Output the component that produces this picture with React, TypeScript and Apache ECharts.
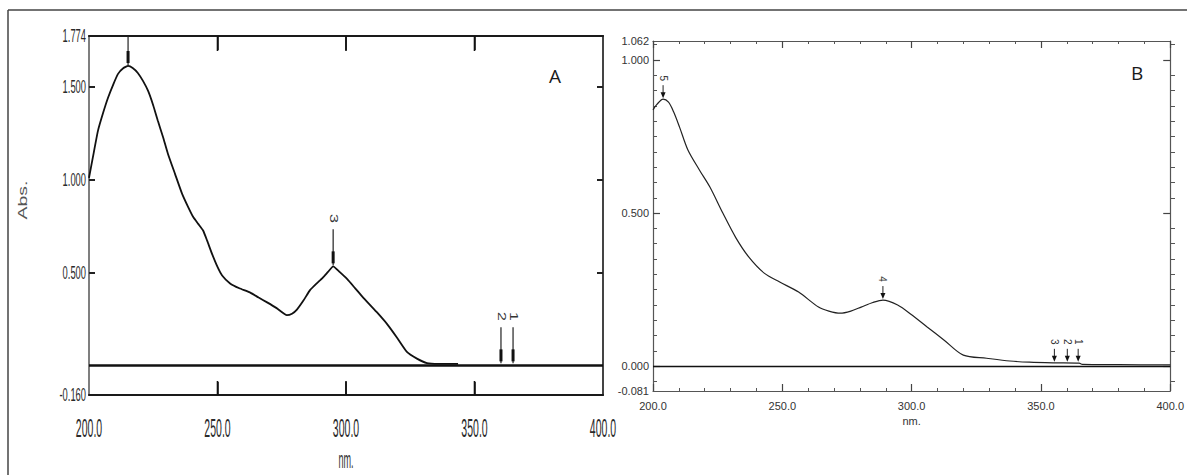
import React, { useEffect, useRef } from "react";
import * as echarts from "echarts";

// ---------- Panel A data ----------
const wavelengthA = [
  200, 201.5, 203.5, 205.5, 207.4, 209.5, 211.3, 213.3, 215.2, 217, 219, 221, 223, 225, 226.8, 228.8,
  230.7, 233.5, 236.2, 238.5, 240.5, 242.5, 244.4, 246, 247.8, 250, 251.8, 254.9, 258.5, 262.6, 266,
  269.3, 273, 277, 279, 280.9, 283.5, 286, 288.5, 291, 293, 295, 297.5, 300.4, 303.5, 306.6, 309.5,
  312, 316, 319.8, 323.7, 327.6, 331.5, 336, 343.6,
];
const absA = [
  1.01, 1.12, 1.264, 1.36, 1.441, 1.515, 1.57, 1.6, 1.613, 1.602, 1.575, 1.532, 1.478, 1.4, 1.317, 1.23,
  1.14, 1.03, 0.925, 0.855, 0.8, 0.762, 0.726, 0.67, 0.603, 0.53, 0.484, 0.441, 0.415, 0.393, 0.365,
  0.339, 0.308, 0.27, 0.278, 0.3, 0.35, 0.405, 0.44, 0.472, 0.503, 0.533, 0.503, 0.465, 0.416, 0.366,
  0.323, 0.286, 0.222, 0.15, 0.072, 0.036, 0.012, 0.008, 0.008,
];
const peakWlA = [215.2, 295, 360.3, 365];
const peakAbsA = [1.613, 0.533, 0.005, 0.005];
const peakLabelsA = ["", "3", "2", "1"];
const xTicksA = [200, 250, 300, 350, 400];
const xInnerTicksA = [250, 300, 350];
const yLabelsA = [-0.16, 0.5, 1.0, 1.5, 1.774];
const yMajorTicksA = [0.5, 1.0, 1.5];
const yMinA = -0.16;
const yMaxA = 1.774;

// ---------- Panel B data ----------
const wavelengthB = [
  200, 201.5, 203.9, 206, 208, 210.3, 213.5, 218, 222, 227, 232, 237, 243, 249, 256.3, 264, 268, 272.4,
  276.5, 280.5, 285, 288.9, 294.6, 300, 306, 312.6, 320, 329, 338, 345.6, 355, 364.8, 366, 380, 400,
];
const absB = [
  0.837, 0.855, 0.872, 0.862, 0.83, 0.78, 0.706, 0.64, 0.585, 0.5, 0.42, 0.357, 0.304, 0.275, 0.242,
  0.193, 0.18, 0.173, 0.18, 0.193, 0.208, 0.216, 0.2, 0.168, 0.128, 0.085, 0.036, 0.026, 0.017, 0.013,
  0.011, 0.01, 0.006, 0.005, 0.004,
];
const peakWlB = [203.9, 288.9, 355.2, 360.2, 364.4];
const peakAbsB = [0.872, 0.216, 0.011, 0.011, 0.011];
const peakLabelsB = ["5", "4", "3", "2", "1"];
const yLabelsB = [-0.081, 0, 0.5, 1.0, 1.062];
const yMajorTicksB = [0, 0.5, 1.0];
const yMinorTicksB = [
  -0.05, 0.05, 0.1, 0.15, 0.2, 0.25, 0.3, 0.35, 0.4, 0.45, 0.55, 0.6, 0.65, 0.7, 0.75, 0.8, 0.85, 0.9,
  0.95, 1.05,
];
const yMinB = -0.081;
const yMaxB = 1.062;

const FONT = "'Liberation Sans', Arial, sans-serif";

export default function App() {
  const ref = useRef<HTMLDivElement>(null);
  useEffect(() => {
    if (!ref.current) return;
    const chart = echarts.init(ref.current, undefined, { renderer: "svg" });

    const axisA = (position: string, len: number) => ({
      type: "value",
      gridIndex: 0,
      position,
      min: 200,
      max: 400,
      interval: 50,
      axisLine: { show: true, onZero: false, lineStyle: { color: "#1a1a1a", width: 2.2 } },
      axisTick: {
        show: true,
        inside: true,
        length: len,
        customValues: xInnerTicksA,
        lineStyle: { color: "#111", width: 1.5 },
      },
      axisLabel: { show: false },
      splitLine: { show: false },
    });
    const yAxisA = (position: string, lineWidth: number, color: string) => ({
      type: "value",
      gridIndex: 0,
      position,
      min: yMinA,
      max: yMaxA,
      axisLine: { onZero: false, lineStyle: { color, width: lineWidth } },
      axisTick: {
        show: true,
        inside: true,
        length: 6,
        customValues: yMajorTicksA,
        lineStyle: { color: "#222", width: 2 },
      },
      axisLabel: { show: false },
      splitLine: { show: false },
    });
    const xAxisB = (position: string, showLabel: boolean) => ({
      type: "value",
      gridIndex: 1,
      position,
      min: 200,
      max: 400,
      interval: 50,
      name: showLabel ? "nm." : "",
      nameLocation: "middle",
      nameGap: 18,
      nameTextStyle: { fontFamily: FONT, fontSize: 11, color: "#333" },
      axisLine: { onZero: false, lineStyle: { color: "#555", width: 1.2 } },
      axisTick: { inside: true, length: 7, lineStyle: { color: "#444", width: 1.2 } },
      minorTick: { show: true, splitNumber: 5, length: 3, lineStyle: { color: "#555", width: 1 } },
      axisLabel: {
        show: showLabel,
        margin: 9,
        fontFamily: FONT,
        fontSize: 11,
        color: "#333",
        showMinLabel: true,
        showMaxLabel: true,
        formatter: (v: number) => v.toFixed(1),
      },
      splitLine: { show: false },
    });
    const yAxisB = (position: string, showLabel: boolean) => ({
      type: "value",
      gridIndex: 1,
      position,
      min: yMinB,
      max: yMaxB,
      axisLine: { onZero: false, lineStyle: { color: "#555", width: 1.2 } },
      axisTick: {
        inside: true,
        length: 7,
        customValues: yMajorTicksB,
        lineStyle: { color: "#444", width: 1.2 },
      },
      axisLabel: {
        show: showLabel,
        margin: 4,
        fontFamily: FONT,
        fontSize: 11,
        color: "#333",
        customValues: yLabelsB,
        formatter: (v: number) => v.toFixed(3),
      },
      splitLine: { show: false },
    });
    const yMinorB = (position: string) => ({
      type: "value",
      gridIndex: 2,
      position,
      min: yMinB,
      max: yMaxB,
      axisLine: { show: false, onZero: false },
      axisTick: {
        inside: true,
        length: 4,
        customValues: yMinorTicksB,
        lineStyle: { color: "#555", width: 1 },
      },
      axisLabel: { show: false },
      splitLine: { show: false },
    });

    const markerA = (params: any, api: any) => {
      const i = params.dataIndex;
      const p = api.coord([api.value(0), api.value(1)]);
      const top = params.coordSys.y;
      const children: any[] = [
        {
          type: "line",
          shape: { x1: p[0], y1: Math.max(top, p[1] - 37), x2: p[0], y2: p[1] - 1 },
          style: { stroke: "#222", lineWidth: 1.2 },
        },
        {
          type: "rect",
          shape: { x: p[0] - 1.5, y: Math.max(top, p[1] - 15), width: 3, height: 12 },
          style: { fill: "#111" },
        },
      ];
      if (peakLabelsA[i]) {
        children.push({
          type: "text",
          x: p[0],
          y: p[1] - 48,
          rotation: -Math.PI / 2,
          scaleX: 1.6,
          style: {
            text: peakLabelsA[i],
            fontFamily: FONT,
            fontSize: 10,
            fill: "#333",
            align: "center",
            verticalAlign: "middle",
          },
        });
      }
      return { type: "group", children };
    };

    const markerB = (params: any, api: any) => {
      const i = params.dataIndex;
      const p = api.coord([api.value(0), api.value(1)]);
      return {
        type: "group",
        children: [
          {
            type: "line",
            shape: { x1: p[0], y1: p[1] - 14, x2: p[0], y2: p[1] - 4 },
            style: { stroke: "#222", lineWidth: 1 },
          },
          {
            type: "polygon",
            shape: {
              points: [
                [p[0] - 2.5, p[1] - 7],
                [p[0] + 2.5, p[1] - 7],
                [p[0], p[1] - 1],
              ],
            },
            style: { fill: "#111" },
          },
          {
            type: "text",
            x: p[0],
            y: p[1] - 21,
            rotation: -Math.PI / 2,
            style: {
              text: peakLabelsB[i],
              fontFamily: FONT,
              fontSize: 10,
              fill: "#333",
              align: "center",
              verticalAlign: "middle",
            },
          },
        ],
      };
    };

    // x labels of panel A
    const xLabelA = (params: any, api: any) => {
      const v = api.value(0);
      const pb = api.coord([v, yMinA]);
      return {
        type: "text",
        x: pb[0],
        y: pb[1] + 34,
        scaleX: 0.42,
        style: {
          text: v.toFixed(1),
          fontFamily: FONT,
          fontSize: 25,
          fill: "#2a2a2a",
          align: "center",
          verticalAlign: "middle",
        },
      };
    };
    // inner x tick marks of panel A (top and bottom), drawn as polylines
    const xTickMarkA = (params: any, api: any) => {
      const v = api.value(0);
      const pb = api.coord([v, yMinA]);
      const pt = api.coord([v, yMaxA]);
      return {
        type: "group",
        children: [
          {
            type: "polyline",
            shape: { points: [[pb[0], pb[1] - 1], [pb[0], pb[1] - 14]] },
            style: { stroke: "#111", lineWidth: 1.6, fill: null },
          },
          {
            type: "polyline",
            shape: { points: [[pt[0], pt[1] + 1], [pt[0], pt[1] + 15]] },
            style: { stroke: "#111", lineWidth: 1.6, fill: null },
          },
        ],
      };
    };

    const option: any = {
      animation: false,
      backgroundColor: "#fff",
      grid: [
        { left: 89, top: 36, width: 514, height: 359 },
        { left: 653, top: 41, width: 522, height: 350 },
        { left: 653, top: 41, width: 522, height: 350 },
      ],
      xAxis: [
        axisA("bottom", 13),
        axisA("top", 14),
        xAxisB("bottom", true),
        xAxisB("top", false),
        { type: "value", gridIndex: 2, min: 200, max: 400, show: false },
      ],
      yAxis: [
        yAxisA("left", 1.5, "#555"),
        yAxisA("right", 2, "#444"),
        yAxisB("left", true),
        yAxisB("right", false),
        yMinorB("left"),
        yMinorB("right"),
      ],
      graphic: [
        { type: "line", shape: { x1: 8, y1: 10, x2: 8, y2: 475 }, style: { stroke: "#444", lineWidth: 1.5 } },
        { type: "line", shape: { x1: 8, y1: 10, x2: 1187, y2: 10 }, style: { stroke: "#444", lineWidth: 1.5 } },
        {
          type: "text",
          x: 549,
          y: 66,
          style: { text: "A", fontFamily: "'Open Sans', sans-serif", fontSize: 19, fill: "#1a1a1a" },
        },
        {
          type: "text",
          x: 1131,
          y: 63,
          style: { text: "B", fontFamily: "'Open Sans', sans-serif", fontSize: 19, fill: "#1a1a1a" },
        },
        {
          type: "text",
          x: 23,
          y: 200,
          rotation: Math.PI / 2,
          scaleX: 1.5,
          style: {
            text: "Abs.",
            fontFamily: FONT,
            fontSize: 13,
            fill: "#555",
            align: "center",
            verticalAlign: "middle",
          },
        },
        {
          type: "text",
          x: 346,
          y: 460,
          scaleX: 0.38,
          style: {
            text: "nm.",
            fontFamily: FONT,
            fontSize: 24,
            fill: "#333",
            align: "center",
            verticalAlign: "middle",
          },
        },
      ],
      series: [
        {
          type: "line",
          xAxisIndex: 0,
          yAxisIndex: 0,
          data: wavelengthA.map((w, i) => [w, absA[i]]),
          showSymbol: false,
          smooth: 0.15,
          lineStyle: { color: "#111", width: 1.8 },
          markLine: {
            silent: true,
            symbol: "none",
            label: { show: false },
            lineStyle: { type: "solid", color: "#111", width: 2.5 },
            data: [{ yAxis: 0 }],
          },
          z: 3,
        },
        {
          type: "custom",
          xAxisIndex: 0,
          yAxisIndex: 0,
          silent: true,
          clip: false,
          data: peakWlA.map((w, i) => [w, peakAbsA[i]]),
          renderItem: markerA,
          z: 4,
        },
        {
          type: "custom",
          xAxisIndex: 0,
          yAxisIndex: 0,
          silent: true,
          clip: false,
          data: xTicksA.map((v) => [v, yMinA]),
          renderItem: xLabelA,
          z: 4,
        },
        {
          type: "custom",
          xAxisIndex: 0,
          yAxisIndex: 0,
          silent: true,
          clip: false,
          data: xInnerTicksA.map((v) => [v, 0.8]),
          renderItem: xTickMarkA,
          z: 6,
        },
        {
          type: "custom",
          xAxisIndex: 0,
          yAxisIndex: 0,
          silent: true,
          clip: false,
          data: yLabelsA.map((v) => [200, v]),
          renderItem: (params: any, api: any) => {
            const v = api.value(1);
            const p = api.coord([200, v]);
            return {
              type: "text",
              x: p[0] - 3,
              y: p[1],
              scaleX: 0.52,
              style: {
                text: v.toFixed(3),
                fontFamily: FONT,
                fontSize: 18,
                fill: "#2a2a2a",
                align: "right",
                verticalAlign: "middle",
              },
            };
          },
        },
        {
          type: "line",
          xAxisIndex: 2,
          yAxisIndex: 2,
          data: wavelengthB.map((w, i) => [w, absB[i]]),
          showSymbol: false,
          smooth: 0.3,
          lineStyle: { color: "#222", width: 1.2 },
          markLine: {
            silent: true,
            symbol: "none",
            label: { show: false },
            lineStyle: { type: "solid", color: "#111", width: 1.3 },
            data: [{ yAxis: 0 }],
          },
          z: 3,
        },
        {
          type: "custom",
          xAxisIndex: 2,
          yAxisIndex: 2,
          silent: true,
          clip: false,
          data: peakWlB.map((w, i) => [w, peakAbsB[i]]),
          renderItem: markerB,
          z: 4,
        },
      ],
    };
    chart.setOption(option);
    return () => chart.dispose();
  }, []);
  return (
    <div
      ref={ref}
      style={{ position: "fixed", left: 0, top: 0, width: 1187, height: 475, background: "#fff" }}
    />
  );
}
